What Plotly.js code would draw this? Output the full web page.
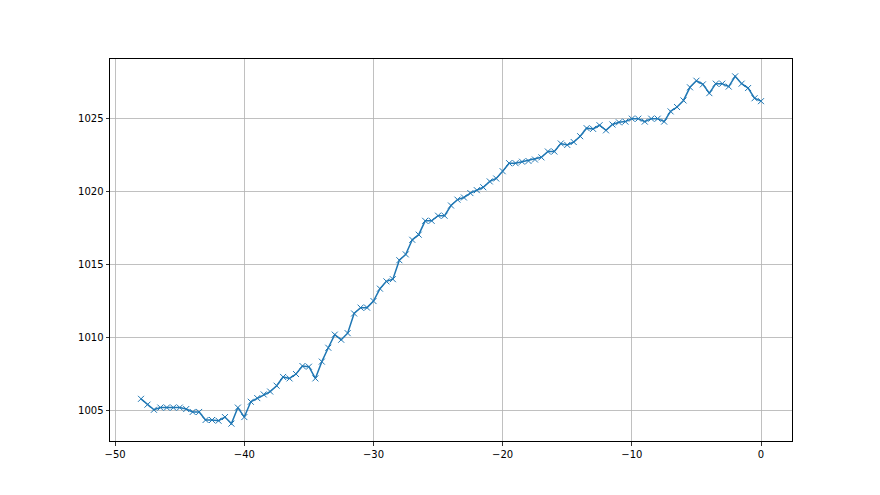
<!DOCTYPE html>
<html>
<head>
<meta charset="utf-8">
<script src="https://cdn.plot.ly/plotly-3.0.1.min.js"></script>
<style>html,body{margin:0;padding:0;background:#fff;}#chart{width:880px;height:495px;}</style>
</head>
<body>
<div id="chart"></div>
<script>
const xStart = -48;
const xStep = 0.5;
const values = [
  1005.8, 1005.4, 1005.05, 1005.2, 1005.2, 1005.2, 1005.2, 1005.1, 1004.9, 1004.9,
  1004.35, 1004.35, 1004.3, 1004.55, 1004.1, 1005.2, 1004.55, 1005.6, 1005.85, 1006.1,
  1006.3, 1006.7, 1007.3, 1007.2, 1007.5, 1008.05, 1008.0, 1007.2, 1008.35, 1009.3,
  1010.2, 1009.85, 1010.3, 1011.65, 1012.05, 1012.05, 1012.5, 1013.35, 1013.85, 1014.0,
  1015.3, 1015.7, 1016.7, 1017.05, 1018.0, 1018.0, 1018.35, 1018.35, 1019.05, 1019.45,
  1019.6, 1019.9, 1020.1, 1020.3, 1020.7, 1020.9, 1021.4, 1021.95, 1021.95, 1022.05,
  1022.1, 1022.2, 1022.35, 1022.75, 1022.75, 1023.3, 1023.2, 1023.4, 1023.8, 1024.35,
  1024.3, 1024.55, 1024.2, 1024.6, 1024.75, 1024.8, 1025.0, 1025.0, 1024.8, 1025.0,
  1025.0, 1024.8, 1025.5, 1025.8, 1026.25, 1027.15, 1027.6, 1027.35, 1026.75, 1027.4,
  1027.4, 1027.2, 1027.9, 1027.4, 1027.1, 1026.4, 1026.2
];
const xs = values.map((_, i) => xStart + i * xStep);
const xTicks = [-50, -40, -30, -20, -10, 0];
const yTicks = [1005, 1010, 1015, 1020, 1025];

const trace = {
  x: xs, y: values, type: 'scatter', mode: 'lines+markers',
  line: {color: '#1f77b4', width: 1.5},
  marker: {symbol: 'x-thin', size: 6, color: '#1f77b4', line: {color: '#1f77b4', width: 1}},
  hoverinfo: 'skip'
};

const axisCommon = {
  showgrid: true, gridcolor: '#b0b0b0', gridwidth: 0.8,
  zeroline: false, showline: true, linecolor: '#000', linewidth: 1, mirror: true,
  ticks: 'outside', ticklen: 3.5, tickwidth: 0.8, tickcolor: '#000',
  tickfont: {family: 'DejaVu Sans', size: 10, color: '#000'}
};

const layout = {
  width: 880, height: 495,
  margin: {l: 110, r: 88, t: 59, b: 54},
  paper_bgcolor: '#fff', plot_bgcolor: '#fff',
  showlegend: false,
  xaxis: Object.assign({}, axisCommon, {range: [-50.4, 2.4], tickvals: xTicks, ticktext: xTicks.map(v => v < 0 ? '\u2212' + Math.abs(v) : String(v))}),
  yaxis: Object.assign({}, axisCommon, {range: [1002.91, 1029.09], tickvals: yTicks, ticktext: yTicks.map(String)}),
  font: {family: 'DejaVu Sans', size: 10, color: '#000'}
};

Plotly.newPlot('chart', [trace], layout, {displayModeBar: false, staticPlot: true});
</script>
</body>
</html>
